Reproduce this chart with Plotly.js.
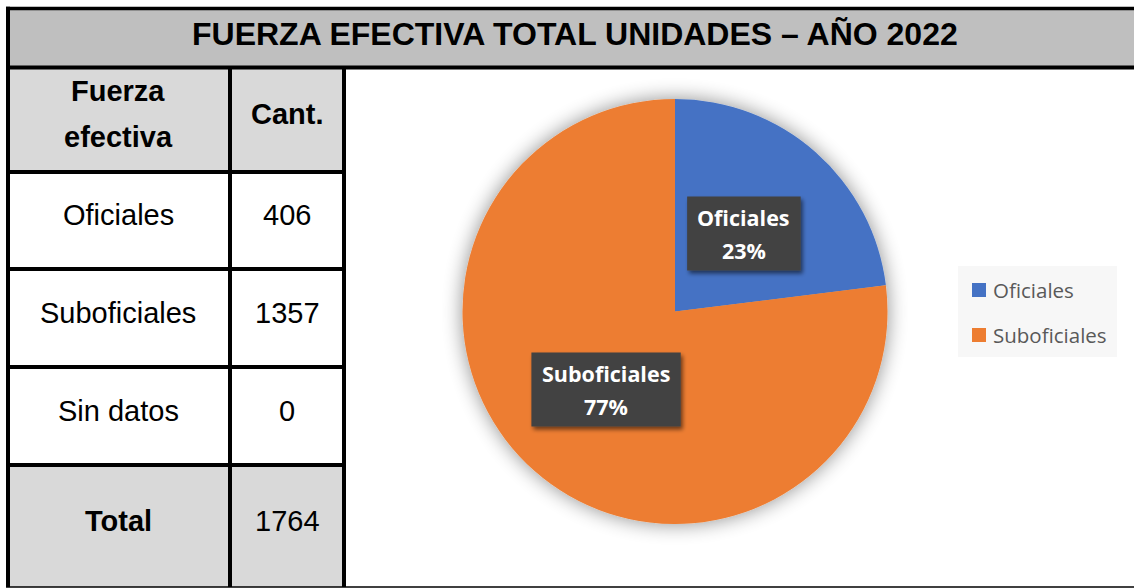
<!DOCTYPE html>
<html>
<head>
<meta charset="utf-8">
<script src="https://cdn.plot.ly/plotly-3.0.1.min.js"></script>
<style>
  html, body { margin: 0; padding: 0; background: #ffffff; }
  #chart { width: 1134px; height: 588px; }
</style>
</head>
<body>
<div id="chart"></div>
<script>
// ---------------- DATA ----------------
const titleText = "FUERZA EFECTIVA TOTAL UNIDADES – AÑO 2022";
const tableHeaders = ["Fuerza<br>efectiva", "Cant."];
const tableCategories = ["Oficiales", "Suboficiales", "Sin datos", "Total"];
const tableValues = [406, 1357, 0, 1764];
const pieLabels = ["Oficiales", "Suboficiales"];
const pieValues = [406, 1357];

// ---------------- STYLE / GEOMETRY ----------------
const W = 1134, H = 588;
const PX = x => x / W;
const PY = y => 1 - y / H;
const sliceColors = ['#4472c4', '#ed7d31'];
const tableFont = 'Liberation Sans, Arial, sans-serif';
const calFont = 'Open Sans, Lato, sans-serif';

const geo = {
  left: 8, top: 8.5, titleBottom: 67.5, col1: 230, col2: 344,
  rowLines: [172, 269, 367, 465], bottom: 587,
  catX: 118, valX: 287,
  headerLineY: [91, 137], headerSingleY: 114,
  rowTextY: [215, 313, 411, 521],
  titleY: 34,
  pieCx: 675, pieCy: 311.5, pieR: 212.5, labelK: 0.49,
  legendBox: [958, 266, 1117, 357], legendItemY: [290, 335], legendSqX: 972, legendTextX: 991
};

const shapes = [];
const annotations = [];
function rect(x0, y0, x1, y1, fill, layer) {
  shapes.push({type: 'rect', xref: 'paper', yref: 'paper', layer: layer || 'below',
    x0: PX(x0), x1: PX(x1), y0: PY(y1), y1: PY(y0), fillcolor: fill, line: {width: 0}});
}
function line(x0, y0, x1, y1, w, color) {
  shapes.push({type: 'line', xref: 'paper', yref: 'paper', layer: 'below',
    x0: PX(x0), x1: PX(x1), y0: PY(y0), y1: PY(y1), line: {color: color || '#000', width: w}});
}
function text(t, x, y, size, opts) {
  annotations.push(Object.assign({text: t, xref: 'paper', yref: 'paper', x: PX(x), y: PY(y),
    xanchor: 'center', yanchor: 'middle', showarrow: false,
    font: {family: tableFont, size: size, color: '#000'}}, opts || {}));
}

// Title band & gray cells
rect(6, geo.top, W, geo.titleBottom, '#bfbfbf');
rect(geo.left, geo.titleBottom, geo.col2, geo.rowLines[0], '#d9d9d9');
rect(geo.left, geo.rowLines[3], geo.col2, geo.bottom, '#d9d9d9');

// Borders
line(6, geo.top, W, geo.top, 3.5);
line(6, geo.titleBottom, W, geo.titleBottom, 4);
line(geo.left, 6.75, geo.left, geo.bottom, 4);
line(geo.col1, geo.titleBottom, geo.col1, geo.bottom, 4);
line(geo.col2, geo.titleBottom, geo.col2, geo.bottom, 4);
geo.rowLines.forEach(y => line(6, y, geo.col2 + 2, y, 4));
line(6, geo.bottom, W, geo.bottom, 1.5);

// Title
text('<b>' + titleText + '</b>', 575, geo.titleY, 32);

// Table header
tableHeaders[0].split('<br>').forEach((t, i) => text('<b>' + t + '</b>', geo.catX, geo.headerLineY[i], 29));
text('<b>' + tableHeaders[1] + '</b>', geo.valX, geo.headerSingleY, 29);

// Table rows
tableCategories.forEach((c, i) => {
  const bold = (i === tableCategories.length - 1);
  text(bold ? '<b>' + c + '</b>' : c, geo.catX, geo.rowTextY[i], 29);
  text(String(tableValues[i]), geo.valX, geo.rowTextY[i], 29);
});

// Pie data labels (dark boxes) computed from data
const total = pieValues.reduce((a, b) => a + b, 0);
const canvas = document.createElement('canvas');
const ctx = canvas.getContext('2d');
ctx.font = 'bold 21.5px "Open Sans"';
let cum = 0;
pieValues.forEach((v, i) => {
  const f = v / total;
  const theta = 2 * Math.PI * (cum + f / 2);
  cum += f;
  const cx = geo.pieCx + geo.labelK * geo.pieR * Math.sin(theta);
  const cy = geo.pieCy - geo.labelK * geo.pieR * Math.cos(theta);
  const pct = Math.round(f * 100) + '%';
  const tw = Math.max(ctx.measureText(pieLabels[i]).width, ctx.measureText(pct).width);
  const bw = tw + 21, bh = 74;
  rect(cx - bw / 2, cy - bh / 2, cx + bw / 2, cy + bh / 2, '#424242', 'above');
  text('<b>' + pieLabels[i] + '</b>', cx, cy - 16, 21.5, {font: {family: calFont, size: 21.5, color: '#ffffff'}});
  text('<b>' + pct + '</b>', cx, cy + 17, 21.5, {font: {family: calFont, size: 21.5, color: '#ffffff'}});
});

// Legend (custom)
const lb = geo.legendBox;
rect(lb[0], lb[1], lb[2], lb[3], '#f7f7f7');
pieLabels.forEach((l, i) => {
  const y = geo.legendItemY[i];
  rect(geo.legendSqX, y - 7, geo.legendSqX + 14, y + 7, sliceColors[i]);
  text(l, geo.legendTextX, y, 20.5, {xanchor: 'left', font: {family: calFont, size: 20.5, color: '#595959'}});
});

const data = [{
  type: 'pie',
  labels: pieLabels,
  values: pieValues,
  sort: false,
  direction: 'clockwise',
  rotation: 0,
  textinfo: 'none',
  hoverinfo: 'label+percent',
  marker: {colors: sliceColors, line: {width: 0}},
  domain: {x: [PX(geo.pieCx - geo.pieR), PX(geo.pieCx + geo.pieR)],
           y: [PY(geo.pieCy + geo.pieR), PY(geo.pieCy - geo.pieR)]},
  showlegend: false
}];

const layout = {
  width: W, height: H,
  margin: {l: 0, r: 0, t: 0, b: 0, pad: 0},
  paper_bgcolor: '#ffffff',
  showlegend: false,
  shapes: shapes,
  annotations: annotations
};

Plotly.newPlot('chart', data, layout, {displayModeBar: false, staticPlot: true}).then(gd => {
  const NS = 'http://www.w3.org/2000/svg';
  const svg = gd.querySelector('.main-svg');
  let defs = svg.querySelector('defs');
  if (!defs) { defs = document.createElementNS(NS, 'defs'); svg.insertBefore(defs, svg.firstChild); }
  function mkFilter(id, std, dx, dy, slope) {
    const f = document.createElementNS(NS, 'filter');
    f.setAttribute('id', id);
    f.setAttribute('x', '-30%'); f.setAttribute('y', '-30%');
    f.setAttribute('width', '160%'); f.setAttribute('height', '160%');
    const blur = document.createElementNS(NS, 'feGaussianBlur');
    blur.setAttribute('in', 'SourceAlpha'); blur.setAttribute('stdDeviation', std);
    const off = document.createElementNS(NS, 'feOffset');
    off.setAttribute('dx', dx); off.setAttribute('dy', dy);
    const ct = document.createElementNS(NS, 'feComponentTransfer');
    const fa = document.createElementNS(NS, 'feFuncA');
    fa.setAttribute('type', 'linear'); fa.setAttribute('slope', slope);
    ct.appendChild(fa);
    const merge = document.createElementNS(NS, 'feMerge');
    const m1 = document.createElementNS(NS, 'feMergeNode');
    const m2 = document.createElementNS(NS, 'feMergeNode'); m2.setAttribute('in', 'SourceGraphic');
    merge.appendChild(m1); merge.appendChild(m2);
    [blur, off, ct, merge].forEach(n => f.appendChild(n));
    defs.appendChild(f);
  }
  mkFilter('pieShadow', 10, 0, 0, 0.45);
  mkFilter('boxShadow', 2, 2, 3, 0.55);
  gd.querySelectorAll('.pielayer .trace').forEach(g => g.setAttribute('filter', 'url(#pieShadow)'));
  gd.querySelectorAll('.layer-above .shapelayer path').forEach(p => p.setAttribute('filter', 'url(#boxShadow)'));
});
</script>
</body>
</html>
